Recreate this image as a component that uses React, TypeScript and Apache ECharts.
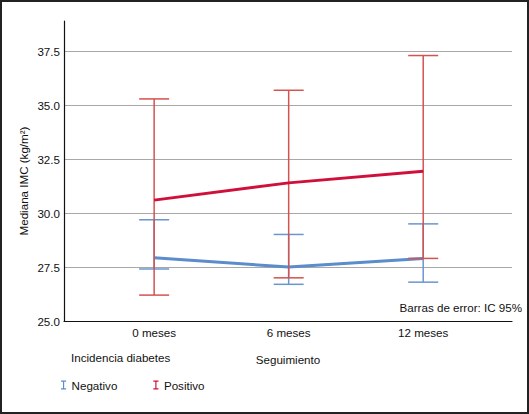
import React, { useEffect, useRef } from "react";
import * as echarts from "echarts";

const categories = ["0 meses", "6 meses", "12 meses"];
const negMedian = [27.93, 27.5, 27.9];
const negLow = [27.41, 26.7, 26.8];
const negHigh = [29.69, 29.01, 29.5];
const posMedian = [30.6, 31.4, 31.94];
const posLow = [26.2, 27.0, 27.9];
const posHigh = [35.29, 35.69, 37.3];
const yTicks = [25, 27.5, 30, 32.5, 35, 37.5];

const FONT = "'Liberation Sans', Arial, sans-serif";
const FS = 11.6;
const BLUE = "#5b8ccc";
const BLUE_BAR = "#6a96cf";
const RED = "#d0103a";
const RED_BAR = "#d4524f";

function errorBars(color: string) {
  return (params: any, api: any) => {
    const x = api.value(0);
    const lo = api.coord([x, api.value(1)]);
    const hi = api.coord([x, api.value(2)]);
    const hw = 15;
    const style = { stroke: color, lineWidth: 1.5 };
    return {
      type: "group",
      children: [
        { type: "line", shape: { x1: hi[0], y1: hi[1], x2: lo[0], y2: lo[1] }, style },
        { type: "line", shape: { x1: hi[0] - hw, y1: hi[1], x2: hi[0] + hw, y2: hi[1] }, style },
        { type: "line", shape: { x1: lo[0] - hw, y1: lo[1], x2: lo[0] + hw, y2: lo[1] }, style },
      ],
    };
  };
}

const ICON = "path://M0,0H8V1.8H4.9V12.2H8V14H0V12.2H3.1V1.8H0Z";

export default function App() {
  const ref = useRef<HTMLDivElement>(null);
  useEffect(() => {
    document.body.style.margin = "0";
    const chart = echarts.init(ref.current!, null, { renderer: "svg" });
    const idx = categories.map((_, i) => i);
    chart.setOption({
      animation: false,
      textStyle: { fontFamily: FONT },
      grid: { left: 64, right: 17, top: 21, bottom: 93 },
      xAxis: {
        type: "value",
        min: -0.67,
        max: 2.66,
        name: "Seguimiento",
        nameLocation: "middle",
        nameGap: 32,
        nameTextStyle: { color: "#111", fontSize: FS, fontFamily: FONT },
        axisLine: { show: true, onZero: false, lineStyle: { color: "#111", width: 1.2 } },
        axisTick: { show: false },
        splitLine: { show: false },
        axisLabel: {
          customValues: idx,
          formatter: (v: number) => categories[Math.round(v)] ?? "",
          color: "#111",
          fontSize: FS,
          margin: 5,
          fontFamily: FONT,
        },
      },
      yAxis: {
        type: "value",
        min: yTicks[0],
        max: 38.9,
        interval: 2.5,
        axisLine: { show: true, onZero: false, lineStyle: { color: "#111", width: 1.2 } },
        axisTick: { show: false },
        splitLine: { show: true, showMaxLine: false, showMinLine: false, lineStyle: { color: "#a8a8a8", width: 1 } },
        axisLabel: {
          showMaxLabel: false,
          formatter: (v: number) => (yTicks.includes(v) ? v.toFixed(1) : ""),
          color: "#111",
          fontSize: FS,
          margin: 4,
          fontFamily: FONT,
        },
      },
      legend: {
        left: 56,
        top: 374,
        itemWidth: 6,
        itemHeight: 9,
        itemGap: 36,
        textStyle: { color: "#111", fontSize: FS, fontFamily: FONT },
        data: [
          { name: "Negativo", icon: ICON, itemStyle: { color: BLUE } },
          { name: "Positivo", icon: ICON, itemStyle: { color: RED } },
        ],
      },
      series: [
        {
          name: "Negativo",
          type: "custom",
          renderItem: errorBars(BLUE_BAR),
          itemStyle: { color: BLUE },
          encode: { x: 0, y: [1, 2] },
          data: idx.map((i) => [i, negLow[i], negHigh[i]]),
          z: 2,
        },
        {
          name: "Negativo",
          type: "line",
          showSymbol: false,
          symbol: "none",
          lineStyle: { color: BLUE, width: 3 },
          itemStyle: { color: BLUE },
          data: idx.map((i) => [i, negMedian[i]]),
          z: 3,
        },
        {
          name: "Positivo",
          type: "custom",
          renderItem: errorBars(RED_BAR),
          itemStyle: { color: RED },
          encode: { x: 0, y: [1, 2] },
          data: idx.map((i) => [i, posLow[i], posHigh[i]]),
          z: 4,
        },
        {
          name: "Positivo",
          type: "line",
          showSymbol: false,
          symbol: "none",
          lineStyle: { color: RED, width: 3 },
          itemStyle: { color: RED },
          data: idx.map((i) => [i, posMedian[i]]),
          z: 5,
        },
      ],
      graphic: [
        {
          type: "rect",
          shape: { x: 1, y: 1, width: 527, height: 412 },
          style: { fill: "none", stroke: "#222", lineWidth: 2 },
          silent: true,
        },
        {
          type: "text",
          x: 23,
          y: 181,
          rotation: Math.PI / 2,
          style: {
            text: "Mediana IMC (kg/m²)",
            fill: "#111",
            font: `${FS}px ${FONT}`,
            align: "center",
            verticalAlign: "middle",
          },
        },
        {
          type: "text",
          x: 522,
          y: 307,
          style: {
            text: "Barras de error: IC 95%",
            fill: "#111",
            font: `${FS}px ${FONT}`,
            align: "right",
            verticalAlign: "middle",
          },
        },
        {
          type: "text",
          x: 71,
          y: 357,
          style: {
            text: "Incidencia diabetes",
            fill: "#111",
            font: `${FS}px ${FONT}`,
            align: "left",
            verticalAlign: "middle",
          },
        },
      ],
    });
    return () => chart.dispose();
  }, []);
  return <div ref={ref} style={{ width: 529, height: 414 }} />;
}
